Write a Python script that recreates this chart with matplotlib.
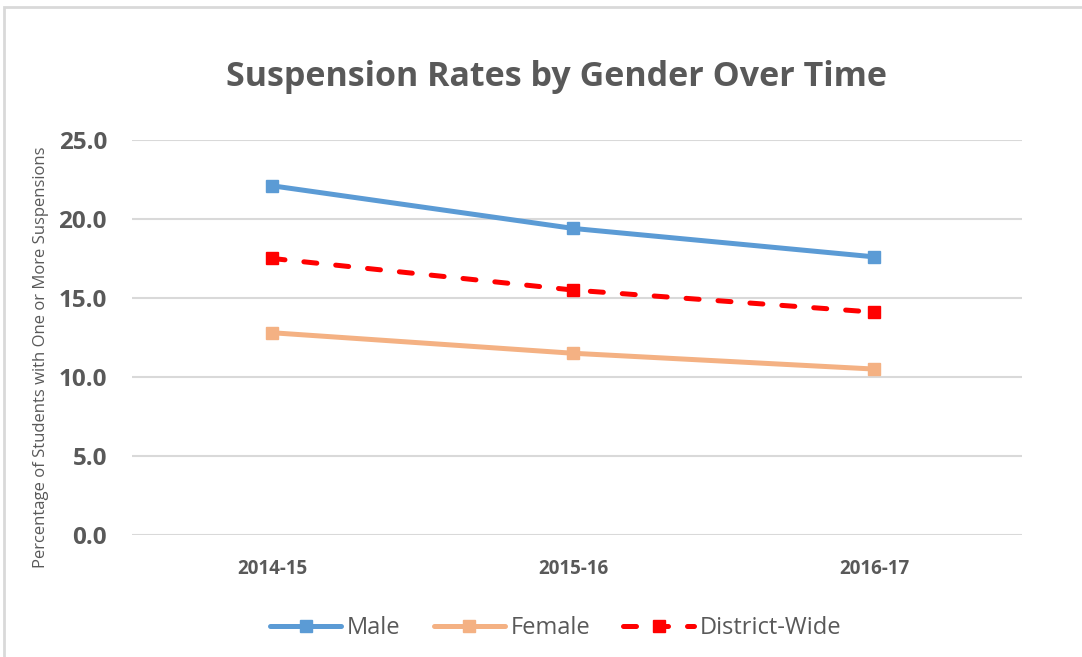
import matplotlib.pyplot as plt
from matplotlib.patches import Rectangle

years = ["2014-15", "2015-16", "2016-17"]
male = [22.1, 19.4, 17.6]
female = [12.8, 11.5, 10.5]
district = [17.5, 15.5, 14.1]

plt.rcParams['font.family'] = ['Open Sans', 'DejaVu Sans']
grey = '#595959'

fig = plt.figure(figsize=(10.82, 6.57), dpi=100)
ax = fig.add_axes([0.122, 0.1857, 0.8225, 0.6013])

x = range(len(years))
ax.plot(x, male, color='#5B9BD5', lw=3.6, marker='s', ms=8.5, label='Male',
        solid_capstyle='round')
ax.plot(x, female, color='#F4B183', lw=3.6, marker='s', ms=8.5, label='Female',
        solid_capstyle='round')
ax.plot(x, district, color='#FF0000', lw=3.6, marker='s', ms=8.5, label='District-Wide',
        dashes=(2.6, 3.8), dash_capstyle='round')

ax.set_ylim(0, 25)
ax.set_xlim(-0.465, 2.49)
ax.set_yticks([0, 5, 10, 15, 20, 25])
ax.set_yticklabels([f"{v:.1f}" for v in [0, 5, 10, 15, 20, 25]])
ax.set_xticks(list(x))
ax.set_xticklabels(years)
ax.grid(axis='y', color='#D9D9D9', lw=1.5)
ax.set_axisbelow(True)
for s in ax.spines.values():
    s.set_visible(False)
ax.tick_params(length=0, colors=grey)
ax.tick_params(axis='y', labelsize=17.5, pad=18)
ax.tick_params(axis='x', labelsize=13.5, pad=17)
for t in ax.get_xticklabels() + ax.get_yticklabels():
    t.set_fontweight('bold')
ax.set_ylabel("Percentage of Students with One or More Suspensions",
              fontsize=12, color=grey, labelpad=6)
ax.yaxis.set_label_coords(-0.093, 0.45)

fig.text(0.514, 0.883, "Suspension Rates by Gender Over Time", ha='center', va='center',
         fontsize=24.5, fontweight='bold', color=grey)

leg = fig.legend(loc='center', bbox_to_anchor=(0.514, 0.044), ncol=3, frameon=False,
                 fontsize=17, handlelength=3.0, columnspacing=1.4, handletextpad=0.25)
for t in leg.get_texts():
    t.set_color(grey)

fig.patches.append(Rectangle((4 / 1082, -0.1), 1.2, 1.1 - 7 / 657, transform=fig.transFigure,
                             fill=False, edgecolor='#D9D9D9', lw=2, figure=fig))

fig.savefig("out.png", dpi=100)
